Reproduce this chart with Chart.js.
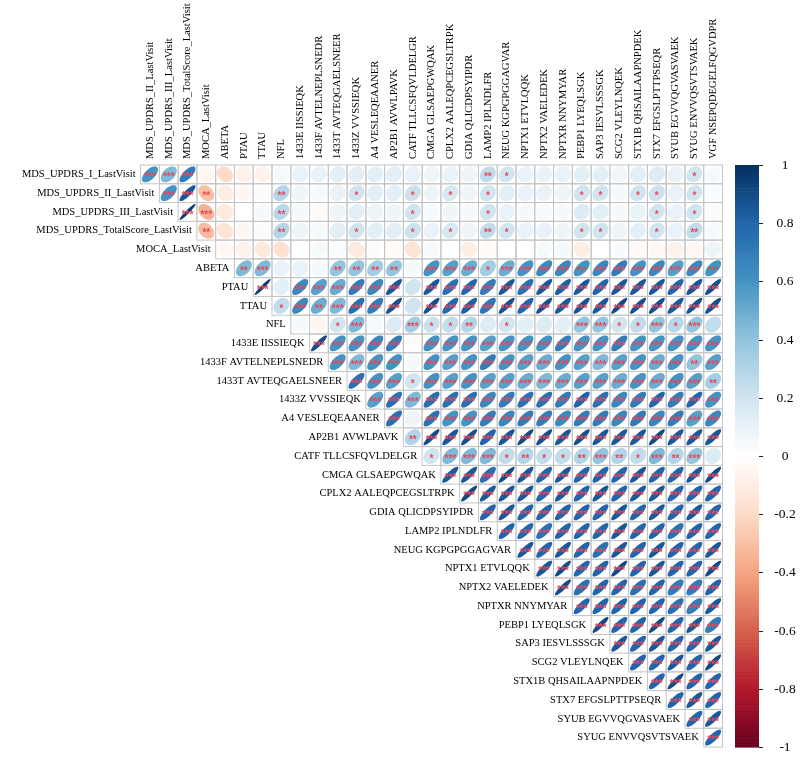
<!DOCTYPE html>
<html>
<head>
<meta charset="utf-8">
<script src="https://cdn.jsdelivr.net/npm/chart.js@4.4.0/dist/chart.umd.min.js"></script>
<style>
  body { margin: 0; background: #fff; }
  #wrap { width: 800px; height: 774px; }
</style>
</head>
<body>
<div id="wrap"><canvas id="corr" width="800" height="774"></canvas></div>
<script>
const rowLabels = ['MDS_UPDRS_I_LastVisit','MDS_UPDRS_II_LastVisit','MDS_UPDRS_III_LastVisit','MDS_UPDRS_TotalScore_LastVisit','MOCA_LastVisit','ABETA','PTAU','TTAU','NFL','1433E IISSIEQK','1433F AVTELNEPLSNEDR','1433T AVTEQGAELSNEER','1433Z VVSSIEQK','A4 VESLEQEAANER','AP2B1 AVWLPAVK','CATF TLLCSFQVLDELGR','CMGA GLSAEPGWQAK','CPLX2 AALEQPCEGSLTRPK','GDIA QLICDPSYIPDR','LAMP2 IPLNDLFR','NEUG KGPGPGGAGVAR','NPTX1 ETVLQQK','NPTX2 VAELEDEK','NPTXR NNYMYAR','PEBP1 LYEQLSGK','SAP3 IESVLSSSGK','SCG2 VLEYLNQEK','STX1B QHSAILAAPNPDEK','STX7 EFGSLPTTPSEQR','SYUB EGVVQGVASVAEK','SYUG ENVVQSVTSVAEK'];
const colLabels = ['MDS_UPDRS_II_LastVisit','MDS_UPDRS_III_LastVisit','MDS_UPDRS_TotalScore_LastVisit','MOCA_LastVisit','ABETA','PTAU','TTAU','NFL','1433E IISSIEQK','1433F AVTELNEPLSNEDR','1433T AVTEQGAELSNEER','1433Z VVSSIEQK','A4 VESLEQEAANER','AP2B1 AVWLPAVK','CATF TLLCSFQVLDELGR','CMGA GLSAEPGWQAK','CPLX2 AALEQPCEGSLTRPK','GDIA QLICDPSYIPDR','LAMP2 IPLNDLFR','NEUG KGPGPGGAGVAR','NPTX1 ETVLQQK','NPTX2 VAELEDEK','NPTXR NNYMYAR','PEBP1 LYEQLSGK','SAP3 IESVLSSSGK','SCG2 VLEYLNQEK','STX1B QHSAILAAPNPDEK','STX7 EFGSLPTTPSEQR','SYUB EGVVQGVASVAEK','SYUG ENVVQSVTSVAEK','VGF NSEPQDEGELFQGVDPR'];

// row r holds correlations for columns r..30 (upper triangle incl. diagonal)
const corrRows = [
  [0.6,0.45,0.7,-0.05,-0.2,-0.08,-0.07,0.05,0.1,0.1,0.12,0.12,0.12,0.12,0.1,0.08,0.1,0.08,0.25,0.2,0.1,0.1,0.1,0.12,0.12,0.07,0.12,0.15,0.1,0.2,0.05],
  [0.6,0.85,-0.3,-0.1,-0.05,0.02,0.3,0.08,0.05,0.1,0.2,0.12,0.12,0.22,0.08,0.18,0.08,0.2,0.12,0.1,0.1,0.08,0.2,0.2,0.05,0.2,0.22,0.1,0.2,0.03],
  [0.95,-0.35,-0.12,0.0,0.05,0.28,0.05,-0.03,0.08,0.12,0.08,0.08,0.2,0.05,0.08,0.05,0.2,0.1,0.05,0.05,0.05,0.15,0.12,0.05,0.1,0.2,0.1,0.2,0.02],
  [-0.32,-0.15,-0.05,0.02,0.3,0.08,0.05,0.12,0.2,0.12,0.12,0.22,0.1,0.18,0.08,0.25,0.2,0.1,0.1,0.08,0.2,0.2,0.08,0.12,0.2,0.1,0.25,0.05],
  [-0.05,-0.07,-0.12,-0.17,0.0,0.05,0.02,-0.12,0.02,-0.02,-0.15,0.04,0.0,-0.1,-0.03,0.0,0.0,0.05,0.05,-0.1,0.0,0.03,-0.03,-0.05,-0.08,-0.05,0.08],
  [0.45,0.45,0.1,0.1,0.05,0.4,0.4,0.35,0.4,0.05,0.6,0.55,0.5,0.35,0.5,0.6,0.65,0.65,0.6,0.65,0.7,0.6,0.65,0.55,0.65,0.6],
  [0.95,0.12,0.65,0.55,0.5,0.7,0.65,0.85,0.2,0.85,0.75,0.8,0.7,0.85,0.75,0.85,0.82,0.85,0.8,0.85,0.85,0.85,0.8,0.85,0.88],
  [0.25,0.65,0.5,0.45,0.75,0.7,0.88,0.2,0.88,0.78,0.82,0.72,0.88,0.8,0.88,0.85,0.87,0.85,0.9,0.88,0.88,0.85,0.88,0.88],
  [0.05,-0.05,0.2,0.45,0.05,0.15,0.35,0.22,0.25,0.3,0.15,0.2,0.12,0.15,0.12,0.4,0.4,0.2,0.25,0.4,0.28,0.4,0.25],
  [0.9,0.6,0.6,0.65,0.7,-0.02,0.6,0.6,0.6,0.55,0.6,0.6,0.6,0.7,0.6,0.6,0.7,0.6,0.6,0.6,0.6,0.6],
  [0.6,0.45,0.6,0.6,0.05,0.6,0.55,0.6,0.7,0.6,0.55,0.5,0.6,0.55,0.45,0.55,0.6,0.5,0.6,0.4,0.55],
  [0.75,0.6,0.55,0.2,0.6,0.55,0.6,0.55,0.55,0.5,0.45,0.5,0.55,0.55,0.5,0.6,0.5,0.6,0.55,0.35],
  [0.55,0.75,0.45,0.75,0.75,0.75,0.65,0.7,0.75,0.75,0.7,0.8,0.75,0.65,0.7,0.8,0.7,0.8,0.6],
  [0.75,0.08,0.75,0.6,0.6,0.7,0.65,0.7,0.7,0.65,0.7,0.7,0.65,0.7,0.65,0.7,0.55,0.65],
  [0.3,0.9,0.85,0.88,0.8,0.85,0.9,0.88,0.85,0.88,0.85,0.85,0.85,0.9,0.85,0.85,0.85],
  [0.2,0.45,0.45,0.45,0.25,0.3,0.25,0.25,0.3,0.4,0.3,0.25,0.45,0.3,0.4,0.15],
  [0.85,0.85,0.75,0.9,0.85,0.8,0.85,0.8,0.8,0.8,0.85,0.8,0.8,0.85,0.9],
  [0.9,0.85,0.85,0.85,0.8,0.85,0.8,0.85,0.8,0.85,0.85,0.8,0.8,0.8],
  [0.8,0.85,0.8,0.8,0.8,0.8,0.8,0.85,0.8,0.85,0.8,0.85,0.8],
  [0.8,0.8,0.75,0.8,0.8,0.8,0.85,0.8,0.8,0.75,0.8,0.8],
  [0.85,0.8,0.85,0.8,0.75,0.85,0.8,0.85,0.8,0.8,0.85],
  [0.85,0.9,0.8,0.8,0.9,0.8,0.85,0.8,0.8,0.9],
  [0.9,0.75,0.8,0.8,0.75,0.8,0.7,0.7,0.8],
  [0.8,0.8,0.8,0.8,0.8,0.75,0.7,0.85],
  [0.9,0.8,0.8,0.9,0.8,0.85,0.7],
  [0.85,0.8,0.85,0.8,0.8,0.85],
  [0.8,0.8,0.85,0.8,0.9],
  [0.8,0.9,0.8,0.8],
  [0.8,0.85,0.8],
  [0.8,0.85],
  [0.8]
];

// significance stars per cell, same layout as corrRows (0 = none)
const starRows = [
  '3330000000000000002100000000010',
  '332000200010010101000011011010',
  '33000200000010001000000001010',
  '2000200010010102100011001020',
  '000000000000000000000000000',
  '23000222203331333333333333',
  '3033333303333333333333333',
  '132333303333333333333333',
  '00130031120100033113130',
  '3333303333333333333333',
  '333303333333333333323',
  '33313333333333333332',
  '3333333333333333333',
  '303333333333333333',
  '23333333333333333',
  '1333121123213230',
  '333333333333333',
  '33333333333333',
  '3333333333333',
  '333333333333',
  '33333333333',
  '3333333333',
  '333333333',
  '33333333',
  '3333333',
  '333333',
  '33333',
  '3333',
  '333',
  '33',
  '3'
];

const legendTicks = [1, 0.8, 0.6, 0.4, 0.2, 0, -0.2, -0.4, -0.6, -0.8, -1];
const rdbu = ['#67001F','#B2182B','#D6604D','#F4A582','#FDDBC7','#FFFFFF','#D1E5F0','#92C5DE','#4393C3','#2166AC','#053061'];

function hex2rgb(h){ return [parseInt(h.slice(1,3),16), parseInt(h.slice(3,5),16), parseInt(h.slice(5,7),16)]; }
function corrColor(v){
  const p = (Math.max(-1, Math.min(1, v)) + 1) / 2 * (rdbu.length - 1);
  const i = Math.min(Math.floor(p), rdbu.length - 2), f = p - i;
  const a = hex2rgb(rdbu[i]), b = hex2rgb(rdbu[i+1]);
  return 'rgb(' + a.map((c,k)=>Math.round(c + (b[k]-c)*f)).join(',') + ')';
}

const points = [];
corrRows.forEach((vals, r) => {
  vals.forEach((v, k) => points.push({ x: r + k, y: r, v: v, s: +starRows[r][k] }));
});

const FONT = '"Liberation Serif", "Times New Roman", serif';

const corrPlot = {
  id: 'corrPlot',
  beforeDatasetsDraw(chart){
    const ctx = chart.ctx, xs = chart.scales.x;
    const cell = xs.getPixelForValue(1) - xs.getPixelForValue(0);
    ctx.save();
    ctx.strokeStyle = '#c4c4c4'; ctx.lineWidth = 1;
    chart.getDatasetMeta(0).data.forEach(el => {
      ctx.strokeRect(el.x - cell/2, el.y - cell/2, cell, cell);
    });
    ctx.restore();
  },
  afterDatasetsDraw(chart){
    const ctx = chart.ctx, xs = chart.scales.x, ys = chart.scales.y, cb = chart.scales.cb;
    const cell = xs.getPixelForValue(1) - xs.getPixelForValue(0);
    const data = chart.data.datasets[0].data;
    ctx.save();
    chart.getDatasetMeta(0).data.forEach((el, i) => {
      const d = data[i];
      const a = Math.acos(d.v);
      ctx.beginPath();
      for (let j = 0; j <= 72; j++){
        const t = j / 72 * 2 * Math.PI;
        const px = el.x + Math.cos(t + a/2) / 2 * 0.85 * cell;
        const py = el.y - Math.cos(t - a/2) / 2 * 0.85 * cell;
        if (j) ctx.lineTo(px, py); else ctx.moveTo(px, py);
      }
      ctx.closePath();
      ctx.fillStyle = corrColor(d.v);
      ctx.fill();
    });
    // significance stars
    ctx.fillStyle = '#e8485c';
    ctx.font = 'bold 10px "Liberation Sans", Arial, sans-serif';
    ctx.textAlign = 'center'; ctx.textBaseline = 'middle';
    chart.getDatasetMeta(0).data.forEach((el, i) => {
      const s = data[i].s;
      if (s) ctx.fillText('*'.repeat(s), el.x, el.y + 3);
    });
    // row labels
    ctx.fillStyle = '#000';
    ctx.font = '10.5px ' + FONT;
    ctx.textAlign = 'right'; ctx.textBaseline = 'middle';
    rowLabels.forEach((lab, r) => {
      ctx.fillText(lab, xs.getPixelForValue(r - 0.5) - 5, ys.getPixelForValue(r));
    });
    // column labels
    const top = ys.getPixelForValue(-0.5);
    colLabels.forEach((lab, c) => {
      ctx.save();
      ctx.translate(xs.getPixelForValue(c), top - 6);
      ctx.rotate(-Math.PI / 2);
      ctx.textAlign = 'left';
      ctx.fillText(lab, 0, 0);
      ctx.restore();
    });
    // colour legend
    const x0 = 735, x1 = 759;
    for (let k = 0; k < 200; k++){
      const v1 = -1 + k * 0.01, v2 = v1 + 0.01;
      const yA = cb.getPixelForValue(v2), yB = cb.getPixelForValue(v1);
      ctx.fillStyle = corrColor((v1 + v2) / 2);
      ctx.fillRect(x0, yA, x1 - x0, yB - yA + 0.6);
    }
    ctx.strokeStyle = '#222'; ctx.lineWidth = 1;
    ctx.fillStyle = '#000';
    ctx.font = '13.5px ' + FONT;
    ctx.textAlign = 'center';
    legendTicks.forEach(t => {
      const y = Math.round(cb.getPixelForValue(t)) + 0.5;
      ctx.beginPath(); ctx.moveTo(x1, y); ctx.lineTo(x1 + 4, y); ctx.stroke();
      ctx.fillText(String(t), 785, y);
    });
    ctx.restore();
  }
};

new Chart(document.getElementById('corr'), {
  type: 'scatter',
  data: { datasets: [{ data: points, pointRadius: 0, pointHoverRadius: 0 }] },
  options: {
    responsive: false,
    animation: false,
    layout: { padding: { left: 140.6, top: 165, right: 77.5, bottom: 27 } },
    plugins: { legend: { display: false }, tooltip: { enabled: false } },
    scales: {
      x: { type: 'linear', min: -0.5, max: 30.5, display: false },
      y: { type: 'linear', min: -0.5, max: 30.5, reverse: true, display: false },
      cb: { type: 'linear', position: 'right', min: -1, max: 1, display: false }
    }
  },
  plugins: [corrPlot]
});
</script>
</body>
</html>
